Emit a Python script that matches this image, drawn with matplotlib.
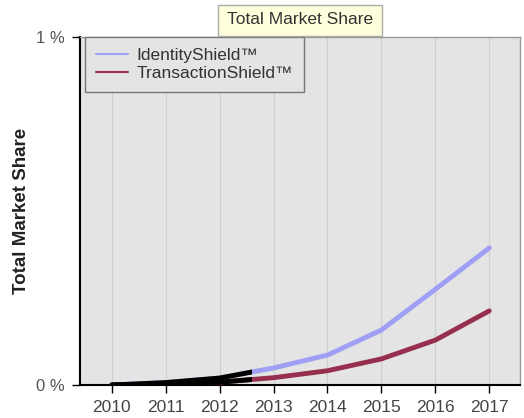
import matplotlib
matplotlib.use("Agg")
import matplotlib.pyplot as plt
from matplotlib.patches import Rectangle

years = [2010, 2011, 2012, 2013, 2014, 2015, 2016, 2017]
identity = [0.0, 0.007, 0.02, 0.049, 0.086, 0.158, 0.275, 0.394]
transaction = [0.0, 0.003, 0.008, 0.021, 0.041, 0.075, 0.129, 0.213]
actual_end = 2012.6
series_names = ["IdentityShield\u2122", "TransactionShield\u2122"]
y_ticks = [0, 1]
y_tick_labels = ["0 %", "1 %"]
title = "Total Market Share"

plt.rcParams['font.family'] = ['Liberation Sans', 'DejaVu Sans']

fig = plt.figure(figsize=(5.24, 4.18), dpi=100)
ax = fig.add_axes([80/524, 1-385/418, 440/524, 348/418])
ax.set_facecolor('#e4e4e4')
ax.set_xlim(2009.41, 2017.57)
ax.set_ylim(0, 1)

for x in years:
    ax.axvline(x, color='#cfcfcf', lw=0.8, zorder=0)

l1, = ax.plot(years, identity, color='#9f9ff5', lw=3.5, solid_capstyle='round', solid_joinstyle='round', label=series_names[0], zorder=3)
l2, = ax.plot(years, transaction, color='#97304f', lw=3.5, solid_capstyle='round', solid_joinstyle='round', label=series_names[1], zorder=3)

clip = Rectangle((2009.41, 0), actual_end - 2009.41, 1, transform=ax.transData)
for vals in (identity, transaction):
    b, = ax.plot(years, vals, color='black', lw=3.5, solid_capstyle='round', solid_joinstyle='round', zorder=4)
    b.set_clip_path(clip)

ax.set_xticks(years)
ax.set_xticklabels([str(y) for y in years], color='#444444', fontsize=12.5)
ax.set_yticks(y_ticks)
ax.set_yticklabels(y_tick_labels, color='#555555', fontsize=12)
ax.tick_params(axis='both', length=6, width=1, color='black')
ax.tick_params(axis='x', pad=5)
ax.tick_params(axis='y', pad=5)

for s in ['top', 'right']:
    ax.spines[s].set_color('#999999')
    ax.spines[s].set_linewidth(1)
for s in ['left', 'bottom']:
    ax.spines[s].set_color('black')
    ax.spines[s].set_linewidth(1.5)

ax.set_ylabel(title, fontsize=13.5, fontweight='bold', color='#222222', labelpad=4)

leg = ax.legend(loc='upper left', bbox_to_anchor=(5/440, 1.0), fontsize=12.5, frameon=True,
                fancybox=False, handlelength=1.8, handletextpad=0.5, borderpad=0.65, labelspacing=0.15,
                borderaxespad=0.0,
                edgecolor='#777777', facecolor='#e4e4e4', framealpha=1.0)
for t in leg.get_texts():
    t.set_color('#333333')
for h in leg.get_lines():
    h.set_linewidth(1.5)

fig.patches.append(Rectangle((218/524, 1-36/418), 164/524, 31/418, transform=fig.transFigure,
                             facecolor='#ffffdd', edgecolor='#aaaaaa', lw=1, zorder=5))
fig.text(300/524, 1-20/418, title, ha='center', va='center', fontsize=12.5, color='#333333', zorder=6)

fig.savefig('out.png', dpi=100)
